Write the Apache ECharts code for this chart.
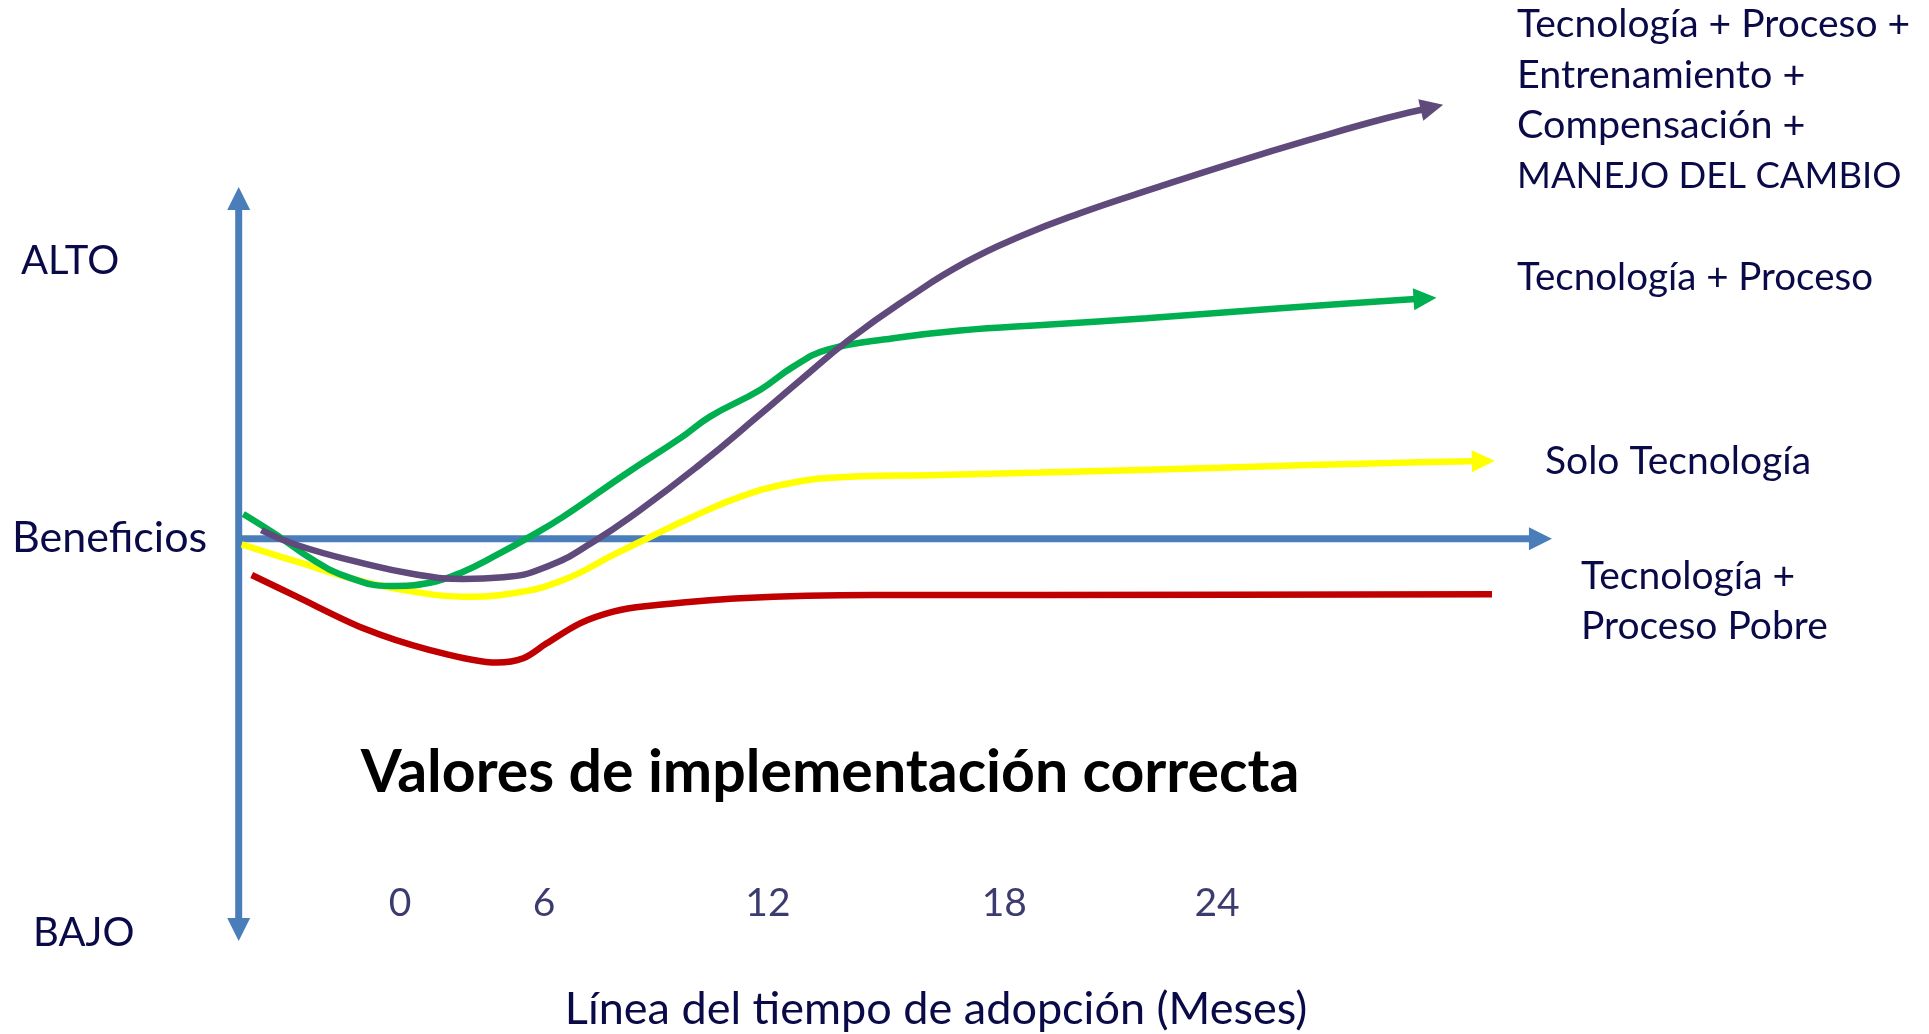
<!DOCTYPE html>
<html><head><meta charset="utf-8">
<script src="https://cdn.jsdelivr.net/npm/echarts@6/dist/echarts.min.js"></script>
<style>html,body{margin:0;padding:0;background:#fff}#c{width:1929px;height:1034px}</style>
</head><body><div id="c"></div>
<script>
// Conceptual benefit curves: x = adoption time (arbitrary units 0..100), y = benefit (0 = baseline "Beneficios")
const cambio = [[1.73,0.88],[4.42,-0.61],[9.49,-2.43],[13.29,-3.49],[17.10,-3.99],[20.15,-3.82],[23.45,-2.77],[26.98,-0.31],[30.56,2.86],[35.13,7.41],[39.69,12.36],[42.74,15.75],[46.55,19.88],[50.92,23.92],[55.29,27.47],[59.66,30.17],[64.03,32.38],[69.86,34.93],[75.69,37.38],[81.51,39.68],[87.35,41.84],[90.86,42.91]];
const procesoBueno = [[0.35,2.48],[2.89,0.39],[5.68,-2.10],[8.22,-3.76],[11.52,-4.69],[14.57,-4.36],[17.10,-3.26],[19.65,-1.60],[22.18,0.22],[24.72,2.21],[29.54,6.53],[33.60,9.99],[35.89,12.16],[39.69,14.81],[42.23,17.13],[44.77,18.79],[49.84,19.95],[54.92,20.72],[61.77,21.32],[69.12,21.94],[79.32,22.94],[88.43,23.77],[90.33,23.91]];
const soloTecnologia = [[0.23,-0.54],[4.42,-2.27],[9.49,-4.26],[13.29,-5.25],[17.10,-5.75],[20.91,-5.41],[24.72,-4.09],[28.52,-1.60],[31.32,0.19],[34.37,2.08],[38.17,4.17],[41.98,5.53],[45.79,6.13],[53.40,6.36],[61.02,6.59],[74.72,7.08],[88.43,7.58],[94.77,7.75]];
const procesoPobre = [[0.99,-3.59],[4.42,-5.75],[9.49,-8.89],[14.57,-11.06],[19.65,-12.31],[21.67,-11.88],[23.45,-10.39],[25.99,-8.40],[28.52,-7.24],[30.94,-6.70],[38.17,-5.91],[48.32,-5.58],[61.02,-5.58],[95.43,-5.51]];
const tickLabels = ['0','6','12','18','24'];
const tickX = [12.28,23.25,40.3,58.3,74.5];
const tickY = -36.3;

const TXT = '#0A0A48';
const FONT = 'Lato, "Open Sans", sans-serif';
const AX = '#4A7EBB';

function arrowEnd(pts, rot){
  return pts.map((p,i)=> i===pts.length-1 ? {value:p, symbol:'triangle', symbolSize:[22,23], symbolRotate:rot} : {value:p});
}
function curve(name, pts, color, rot, z, sm){
  return {name, type:'line', data: rot===null ? pts : arrowEnd(pts, rot), smooth:sm, clip:false,
    symbol:'none', showSymbol:true, showAllSymbol:true, z,
    lineStyle:{color, width:6.5}, itemStyle:{color}, emphasis:{disabled:true}, silent:true};
}
function txt(x, y, text, size){
  return {type:'text', x, y, style:{text, font:size+'px '+FONT, fill:TXT, textAlign:'left', textVerticalAlign:'middle'}};
}
const chart = echarts.init(document.getElementById('c'));
chart.setOption({
  animation:false,
  grid:{left:238.7, right:377, top:187, bottom:93},
  xAxis:{type:'value', min:0, max:100, show:false},
  yAxis:{type:'value', min:-40, max:35, show:false},
  series:[
    {type:'line', clip:false, z:1, silent:true, symbol:'none', showSymbol:true, showAllSymbol:true,
      lineStyle:{color:AX,width:7}, itemStyle:{color:AX},
      data:[{value:[0,0]},{value:[99.12,0],symbol:'triangle',symbolSize:[23,23],symbolRotate:-90}]},
    {type:'line', clip:false, z:1, silent:true, symbol:'none', showSymbol:true, showAllSymbol:true,
      lineStyle:{color:AX,width:7}, itemStyle:{color:AX},
      data:[{value:[0,33.86],symbol:'triangle',symbolSize:[23,23],symbolRotate:0},{value:[0,-38.86],symbol:'triangle',symbolSize:[23,23],symbolRotate:180}]},
    curve('Tecnología + Proceso Pobre', procesoPobre, '#C00000', null, 2, 0.3),
    curve('Solo Tecnología', soloTecnologia, '#FFFF00', -88.8, 3, 0.45),
    curve('Tecnología + Proceso', procesoBueno, '#00B050', -86.2, 4, 0.45),
    curve('Tecnología + Proceso + Entrenamiento + Compensación + MANEJO DEL CAMBIO', cambio, '#604A7B', -76.9, 5, 0.5),
    {type:'scatter', clip:false, silent:true, symbolSize:0, z:6,
      data: tickX.map(x=>[x,tickY]),
      label:{show:true, position:'inside', formatter:p=>tickLabels[p.dataIndex], color:TXT, fontFamily:FONT, fontSize:39}}
  ],
  graphic:[
    txt(21, 261, 'ALTO', 40),
    txt(12, 538, 'Beneficios', 43),
    txt(33, 933, 'BAJO', 40),
    txt(1517, 24.6, 'Tecnología + Proceso +', 39),
    txt(1517, 75, 'Entrenamiento +', 39.5),
    txt(1517, 125.5, 'Compensación +', 39.5),
    txt(1517, 176, 'MANEJO DEL CAMBIO', 36.5),
    txt(1517, 278, 'Tecnología + Proceso', 38.5),
    txt(1545, 461, 'Solo Tecnología', 39),
    txt(1581, 576, 'Tecnología +', 39),
    txt(1581, 626.4, 'Proceso Pobre', 39),
    {type:'text', x:830, y:773, style:{text:'Valores de implementación correcta', font:'bold 59px '+FONT, fill:'#000', textAlign:'center', textVerticalAlign:'middle'}},
    {type:'text', x:936, y:1009, style:{text:'Línea del tiempo de adopción (Meses)', font:'45px '+FONT, fill:TXT, textAlign:'center', textVerticalAlign:'middle'}}
  ]
});
</script></body></html>
